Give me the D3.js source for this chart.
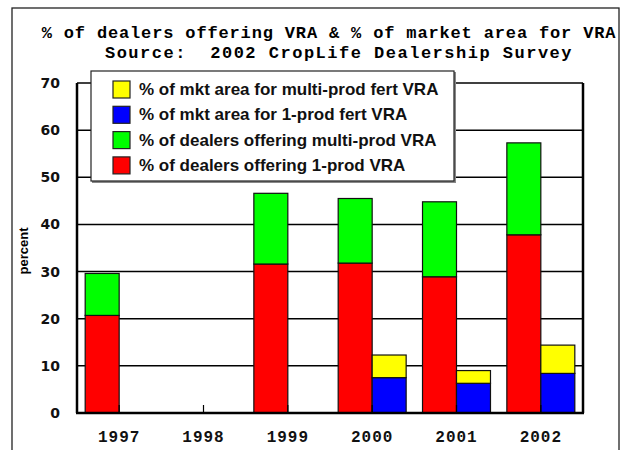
<!DOCTYPE html>
<html>
<head>
<meta charset="utf-8">
<script src="https://cdn.jsdelivr.net/npm/d3@7"></script>
<style>
  body { margin: 0; background: #fff; }
  .title { font-family: "Liberation Mono", "Courier New", monospace; font-weight: bold; font-size: 17px; }
  .ylab { font-family: "DejaVu Sans", sans-serif; font-weight: bold; font-size: 14px; }
  .xlab { font-family: "Liberation Mono", "Courier New", monospace; font-weight: bold; font-size: 16px; letter-spacing: 1px; }
  .legend text { font-family: "Liberation Sans", Arial, sans-serif; font-weight: bold; font-size: 17px; }
  .axis-title { font-family: "Liberation Sans", Arial, sans-serif; font-weight: bold; font-size: 13px; }
</style>
</head>
<body>
<div id="chart"></div>
<script>
// data
const years = ['1997', '1998', '1999', '2000', '2001', '2002'];
const dealers1Prod = [20.7, 0, 31.6, 31.8, 28.9, 37.8];
const dealersMulti = [8.9, 0, 15.0, 13.7, 15.9, 19.5];
const area1Prod = [0, 0, 0, 7.5, 6.3, 8.4];
const areaMulti = [0, 0, 0, 4.8, 2.7, 6.0];
const yTicks = [0, 10, 20, 30, 40, 50, 60, 70];

const legendItems = [
    {label: '% of mkt area for multi-prod fert VRA', color: '#ffff00'},
    {label: '% of mkt area for 1-prod fert VRA', color: '#0000ff'},
    {label: '% of dealers offering multi-prod VRA', color: '#00ff00'},
    {label: '% of dealers offering 1-prod VRA', color: '#ff0000'}
];

const width = 624, height = 450;
const margin = {top: 83, right: 41, bottom: 37, left: 77};
const innerW = width - margin.left - margin.right;
const innerH = height - margin.top - margin.bottom;

const svg = d3.select('#chart').append('svg')
    .attr('width', width)
    .attr('height', height);

// outer frame (bottom runs off the page)
svg.append('rect')
    .attr('x', 12).attr('y', 8)
    .attr('width', 607).attr('height', 460)
    .attr('fill', 'none')
    .attr('stroke', '#222')
    .attr('stroke-width', 1.3);

// titles
svg.append('text').attr('class', 'title')
    .attr('x', 329).attr('y', 38)
    .attr('text-anchor', 'middle')
    .style('letter-spacing', '0.85px')
    .text('% of dealers offering VRA & % of market area for VRA');
svg.append('text').attr('class', 'title')
    .attr('x', 339).attr('y', 58)
    .attr('text-anchor', 'middle')
    .style('letter-spacing', '1.5px')
    .style('white-space', 'pre')
    .text('Source:  2002 CropLife Dealership Survey');

const chart = svg.append('g')
    .attr('transform', `translate(${margin.left},${margin.top})`);

const xScale = d3.scaleBand()
    .domain(years)
    .range([0, innerW])
    .paddingInner(0.194)
    .paddingOuter(0.097);

const xSub = d3.scaleBand()
    .domain(['dealers', 'area'])
    .range([0, xScale.bandwidth()]);

const yScale = d3.scaleLinear()
    .domain([0, 70])
    .range([innerH, 0]);

// gridlines
chart.append('g')
    .selectAll('line')
    .data(yTicks.filter(d => d > 0))
    .join('line')
    .attr('x1', 0).attr('x2', innerW)
    .attr('y1', d => yScale(d)).attr('y2', d => yScale(d))
    .attr('stroke', '#000')
    .attr('stroke-width', 1.5);

// stacked bars
const rows = years.map((y, i) => ({
    year: y,
    stacks: [
        {group: 'dealers', y0: 0, y1: dealers1Prod[i], color: '#ff0000'},
        {group: 'dealers', y0: dealers1Prod[i], y1: dealers1Prod[i] + dealersMulti[i], color: '#00ff00'},
        {group: 'area', y0: 0, y1: area1Prod[i], color: '#0000ff'},
        {group: 'area', y0: area1Prod[i], y1: area1Prod[i] + areaMulti[i], color: '#ffff00'}
    ].filter(s => s.y1 > s.y0)
}));

chart.append('g')
    .selectAll('g')
    .data(rows)
    .join('g')
    .attr('transform', d => `translate(${xScale(d.year)},0)`)
    .selectAll('rect')
    .data(d => d.stacks)
    .join('rect')
    .attr('x', d => xSub(d.group))
    .attr('width', xSub.bandwidth())
    .attr('y', d => yScale(d.y1))
    .attr('height', d => yScale(d.y0) - yScale(d.y1))
    .attr('fill', d => d.color)
    .attr('stroke', '#111')
    .attr('stroke-width', 1.2);

// x axis with small inward ticks at category centres
const xAxis = d3.axisBottom(xScale)
    .tickSize(-8)
    .tickSizeOuter(0)
    .tickPadding(18);

const xAxisG = chart.append('g')
    .attr('transform', `translate(0,${innerH})`)
    .call(xAxis);
xAxisG.select('.domain').remove();
xAxisG.selectAll('line').attr('stroke', '#000').attr('stroke-width', 1.2);
xAxisG.selectAll('text')
    .attr('class', 'xlab')
    .attr('fill', '#111')
    .attr('font-family', null).attr('font-size', null);

// y axis labels only
const yAxis = d3.axisLeft(yScale)
    .tickValues(yTicks)
    .tickSize(0)
    .tickPadding(17);
const yAxisG = chart.append('g').call(yAxis);
yAxisG.select('.domain').remove();
yAxisG.selectAll('text')
    .attr('class', 'ylab')
    .attr('fill', '#111')
    .attr('font-family', null).attr('font-size', null);

// frame lines: left, bottom, right
chart.append('line')
    .attr('x1', 0).attr('x2', 0).attr('y1', 0).attr('y2', innerH)
    .attr('stroke', '#000').attr('stroke-width', 2.5);
chart.append('line')
    .attr('x1', -1).attr('x2', innerW + 1).attr('y1', innerH).attr('y2', innerH)
    .attr('stroke', '#000').attr('stroke-width', 2.5);
chart.append('line')
    .attr('x1', innerW).attr('x2', innerW).attr('y1', 0).attr('y2', innerH)
    .attr('stroke', '#000').attr('stroke-width', 2.5);

// y axis title
svg.append('text')
    .attr('class', 'axis-title')
    .attr('transform', 'translate(28,251) rotate(-90)')
    .attr('text-anchor', 'middle')
    .text('percent');

// legend
const legend = svg.append('g').attr('class', 'legend');
legend.append('rect')
    .attr('x', 92).attr('y', 72)
    .attr('width', 364).attr('height', 111)
    .attr('fill', '#888');
legend.append('rect')
    .attr('x', 91).attr('y', 71)
    .attr('width', 363).attr('height', 110)
    .attr('fill', '#fff')
    .attr('stroke', '#222')
    .attr('stroke-width', 1.2);

const legendRow = legend.selectAll('g.item')
    .data(legendItems)
    .join('g')
    .attr('class', 'item')
    .attr('transform', (d, i) => `translate(113,${89 + i * 25.3})`);

legendRow.append('rect')
    .attr('x', 0).attr('y', -8)
    .attr('width', 17).attr('height', 17)
    .attr('fill', d => d.color)
    .attr('stroke', '#222')
    .attr('stroke-width', 1.2);

legendRow.append('text')
    .attr('x', 26).attr('y', 6)
    .attr('fill', '#111')
    .text(d => d.label);
</script>
</body>
</html>
